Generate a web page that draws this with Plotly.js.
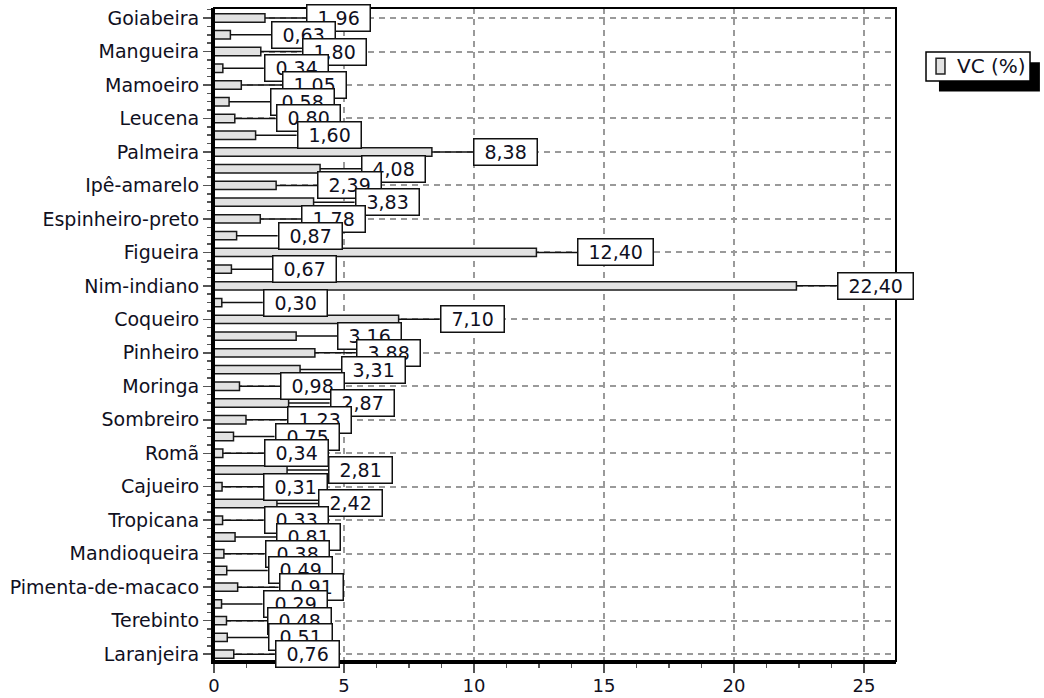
<!DOCTYPE html>
<html>
<head>
<meta charset="utf-8">
<script src="https://cdn.plot.ly/plotly-3.0.1.min.js"></script>
<style>
  html, body { margin: 0; padding: 0; background: #ffffff; }
  #chart { width: 1044px; height: 698px; }
</style>
</head>
<body>
<div id="chart"></div>
<script>
// Values per bar, top to bottom (VC %)
const values = [1.96, 0.63, 1.80, 0.34, 1.05, 0.58, 0.80, 1.60, 8.38, 4.08,
                2.39, 3.83, 1.78, 0.87, 12.40, 0.67, 22.40, 0.30, 7.10, 3.16,
                3.88, 3.31, 0.98, 2.87, 1.23, 0.75, 0.34, 2.81, 0.31, 2.42,
                0.33, 0.81, 0.38, 0.49, 0.91, 0.29, 0.48, 0.51, 0.76];
// Category labels shown on every other bar
const categoryLabels = ["Goiabeira", "Mangueira", "Mamoeiro", "Leucena", "Palmeira",
                        "Ipê-amarelo", "Espinheiro-preto", "Figueira", "Nim-indiano", "Coqueiro",
                        "Pinheiro", "Moringa", "Sombreiro", "Romã", "Cajueiro",
                        "Tropicana", "Mandioqueira", "Pimenta-de-macaco", "Terebinto", "Laranjeira"];
const xTickVals = [0, 5, 10, 15, 20, 25];
const seriesName = "VC (%)";

const positions = values.map((v, i) => i);
const labelPositions = categoryLabels.map((c, i) => i * 2);

const FONT = "DejaVu Sans, Verdana, sans-serif";
const TXT = "#10101e";
const BAR_FILL = "#e2e2e2";

const trace = {
  type: "bar",
  orientation: "h",
  name: seriesName,
  x: values,
  y: positions,
  width: 0.5,
  marker: { color: BAR_FILL, line: { color: "#1a1a1a", width: 1.5 } },
  showlegend: false,
  hoverinfo: "x"
};

const annotations = values.map((v, i) => {
  const txt = v.toFixed(2).replace(".", ",");
  const digits = txt.replace(",", "").length;
  return {
    x: v, y: i, xref: "x", yref: "y",
    text: txt,
    showarrow: true, arrowhead: 0, arrowwidth: 1.5, arrowcolor: "#111",
    ax: 41, ay: 0, standoff: 0,
    xanchor: "left", yanchor: "middle",
    bgcolor: "#ffffff", bordercolor: "#111", borderwidth: 1.5, borderpad: 1.5,
    width: digits * 12.1 + 6 + 17,
    font: { family: FONT, size: 19, color: TXT }
  };
});

// Legend drawn as a framed box with drop shadow
annotations.push({
  xref: "paper", yref: "paper", x: 1.0865, y: 0.9105,
  xanchor: "left", yanchor: "middle", showarrow: false,
  text: seriesName,
  font: { family: FONT, size: 20, color: TXT }
});

const layout = {
  width: 1044, height: 698,
  margin: { l: 214, r: 148, t: 8, b: 36.5 },
  paper_bgcolor: "#ffffff", plot_bgcolor: "#ffffff",
  font: { family: FONT, size: 19, color: TXT },
  xaxis: {
    range: [0, 26.23],
    tickmode: "array", tickvals: xTickVals,
    ticks: "outside", ticklen: 9, tickwidth: 1.5, tickcolor: "#555",
    ticklabelstandoff: -3,
    showline: true, linecolor: "#000", linewidth: 3,
    showgrid: true, gridcolor: "#9a9a9a", gridwidth: 2, griddash: "6px,5px",
    zeroline: false,
    minor: { dtick: 1.25, tick0: 0, ticks: "outside", ticklen: 4, tickwidth: 1.5, tickcolor: "#555", showgrid: false },
    tickfont: { family: FONT, size: 18, color: TXT },
    fixedrange: true
  },
  yaxis: {
    range: [38.41, -0.6],
    tickmode: "array", tickvals: labelPositions, ticktext: categoryLabels,
    ticks: "outside", ticklen: 8, tickwidth: 1.5, tickcolor: "#555",
    showline: true, linecolor: "#000", linewidth: 3,
    showgrid: true, gridcolor: "#9a9a9a", gridwidth: 2, griddash: "6px,5px",
    zeroline: false,
    minor: { dtick: 0.5, tick0: 0, ticks: "outside", ticklen: 4, tickwidth: 1.5, tickcolor: "#555", showgrid: false },
    tickfont: { family: FONT, size: 19, color: TXT },
    fixedrange: true
  },
  showlegend: false,
  shapes: [
    { type: "rect", xref: "paper", yref: "paper", x0: 0, x1: 1, y0: 0, y1: 1,
      line: { color: "#000", width: 2 }, fillcolor: "rgba(0,0,0,0)", layer: "above" },
    { type: "rect", xref: "paper", yref: "paper", x0: 1.063, x1: 1.211, y0: 0.872, y1: 0.917,
      line: { width: 0 }, fillcolor: "#000", layer: "above" },
    { type: "rect", xref: "paper", yref: "paper", x0: 1.044, x1: 1.1965, y0: 0.8883, y1: 0.9327,
      line: { color: "#000", width: 1.5 }, fillcolor: "#ffffff", layer: "above" },
    { type: "rect", xref: "paper", yref: "paper", x0: 1.0587, x1: 1.0718, y0: 0.899, y1: 0.923,
      line: { color: "#222", width: 1.5 }, fillcolor: BAR_FILL, layer: "above" }
  ],
  annotations: annotations
};

Plotly.newPlot("chart", [trace], layout, { displayModeBar: false, staticPlot: true });
</script>
</body>
</html>
